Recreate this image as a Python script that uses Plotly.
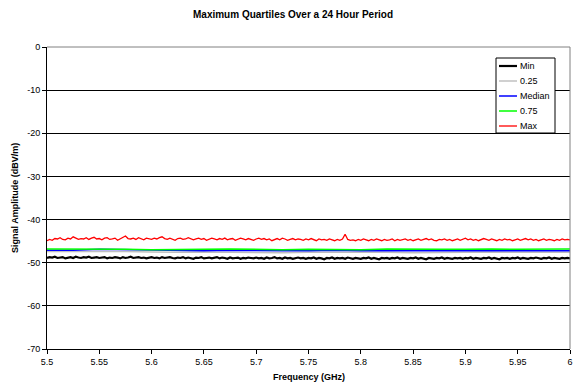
import plotly.graph_objects as go

# ---- data ----
f_start, f_step = 5.5, 0.0025
max_vals = [
    -44.9,-44.6,-44.8,-44.4,-44.5,-44.2,-44.6,-44.7,-44.3,-44.5,-44.0,-44.3,-44.6,-44.4,-44.5,-44.2,-44.6,-44.3,-44.1,-44.5,
    -44.4,-44.7,-44.3,-44.2,-44.6,-44.5,-44.3,-44.8,-44.4,-44.2,-43.8,-44.4,-44.5,-44.3,-44.6,-44.2,-44.4,-44.7,-44.3,-44.5,
    -44.6,-44.3,-44.5,-44.2,-44.0,-44.4,-44.6,-44.3,-44.5,-44.8,-44.4,-44.3,-44.6,-44.5,-44.2,-44.4,-44.7,-44.5,-44.3,-44.6,
    -44.4,-44.8,-44.6,-44.3,-44.5,-44.7,-44.4,-44.6,-44.3,-44.7,-44.5,-44.4,-44.8,-44.6,-44.3,-44.5,-44.7,-44.4,-44.6,-44.8,
    -44.5,-44.3,-44.6,-44.4,-44.7,-44.5,-44.9,-44.6,-44.4,-44.7,-44.3,-44.5,-44.8,-44.6,-44.4,-44.7,-44.5,-44.6,-44.8,-44.5,
    -44.7,-44.4,-44.6,-44.9,-44.5,-44.7,-44.6,-44.8,-44.5,-44.7,-44.9,-44.6,-44.8,-44.5,-43.4,-44.6,-44.8,-44.7,-44.9,-44.6,
    -44.8,-44.5,-44.7,-44.9,-44.6,-44.8,-44.5,-44.7,-44.9,-44.6,-44.8,-44.7,-44.5,-44.9,-44.6,-44.8,-44.7,-44.5,-44.8,-44.6,
    -44.9,-44.7,-44.5,-44.8,-44.6,-44.4,-44.7,-44.5,-44.8,-44.9,-44.6,-44.7,-44.5,-44.8,-44.6,-44.9,-44.7,-44.5,-44.8,-44.6,
    -44.3,-44.7,-44.5,-44.8,-44.6,-44.9,-44.7,-44.4,-44.6,-44.8,-44.5,-44.7,-44.9,-44.6,-44.8,-44.5,-44.7,-44.6,-44.9,-44.7,
    -44.5,-44.8,-44.6,-44.4,-44.7,-44.5,-44.8,-44.6,-44.9,-44.7,-44.5,-44.8,-44.6,-44.7,-44.9,-44.6,-44.8,-44.5,-44.7,-44.6,
    -44.7,
]
min_vals = [
    -48.9,-48.7,-48.8,-48.6,-48.9,-48.8,-48.7,-49.0,-48.8,-48.7,-48.9,-48.6,-48.8,-48.9,-48.7,-48.8,-48.6,-48.9,-48.8,-48.7,
    -48.9,-48.8,-48.7,-49.0,-48.8,-48.9,-48.7,-48.8,-49.0,-48.7,-48.9,-48.8,-48.6,-48.9,-48.8,-48.7,-48.9,-48.8,-49.0,-48.8,
    -48.7,-48.9,-48.8,-49.0,-48.7,-48.9,-48.8,-48.7,-48.9,-49.0,-48.8,-48.9,-48.7,-49.0,-48.8,-48.9,-49.1,-48.8,-48.9,-48.7,
    -49.0,-48.9,-48.8,-49.0,-48.9,-48.7,-49.0,-48.8,-48.9,-49.1,-48.8,-49.0,-48.9,-48.8,-49.1,-48.9,-49.0,-48.8,-48.9,-49.0,
    -48.8,-49.0,-48.9,-49.1,-48.8,-49.0,-48.9,-48.7,-49.0,-48.9,-49.1,-48.8,-49.0,-48.9,-49.1,-48.9,-48.8,-49.0,-48.9,-49.1,
    -48.9,-49.0,-48.8,-49.1,-48.9,-49.0,-49.2,-48.9,-49.0,-48.8,-49.1,-48.9,-49.0,-48.9,-49.1,-48.8,-49.0,-49.1,-48.9,-49.0,
    -49.1,-48.9,-49.0,-48.8,-49.1,-48.9,-49.0,-49.2,-48.9,-49.0,-48.9,-49.1,-48.9,-49.0,-48.8,-49.1,-48.9,-49.0,-49.1,-48.9,
    -49.0,-48.8,-49.1,-48.9,-49.0,-49.2,-48.9,-49.0,-49.1,-48.9,-49.0,-48.8,-49.1,-48.9,-49.0,-49.1,-48.9,-49.0,-48.9,-49.1,
    -48.9,-49.0,-48.8,-49.1,-48.9,-49.0,-49.1,-48.9,-49.0,-48.8,-49.1,-48.9,-49.0,-49.2,-48.9,-49.0,-48.9,-49.1,-48.9,-49.0,
    -48.8,-49.1,-48.9,-49.0,-49.1,-48.9,-49.0,-48.8,-49.0,-49.1,-48.9,-49.0,-48.8,-49.1,-48.9,-49.0,-49.1,-48.9,-49.0,-48.9,
    -49.0,
]
s_start, s_step = 5.5, 0.025
q75_vals = [-46.8,-46.8,-46.9,-46.9,-47.0,-47.0,-46.9,-46.8,-46.9,-47.0,-46.9,
            -46.9,-47.0,-46.8,-46.9,-46.9,-46.9,-46.8,-46.9,-46.9,-46.8]
median_vals = [-47.1,-47.1,-46.9,-47.0,-47.1,-47.2,-47.2,-47.1,-47.2,-47.2,-47.2,
               -47.1,-47.2,-47.2,-47.2,-47.2,-47.2,-47.2,-47.2,-47.2,-47.2]
q25_vals = [-47.4,-47.4,-47.3,-47.4,-47.5,-47.6,-47.5,-47.6,-47.6,-47.7,-47.6,
            -47.6,-47.5,-47.6,-47.7,-47.6,-47.6,-47.5,-47.6,-47.6,-47.6]
x_tick_vals = [5.5, 5.55, 5.6, 5.65, 5.7, 5.75, 5.8, 5.85, 5.9, 5.95, 6.0]
x_tick_text = ["5.5", "5.55", "5.6", "5.65", "5.7", "5.75", "5.8", "5.85", "5.9", "5.95", "6"]
y_tick_vals = [0, -10, -20, -30, -40, -50, -60, -70]
y_tick_text = ["0", "-10", "-20", "-30", "-40", "-50", "-60", "-70"]
series_names = ["Min", "0.25", "Median", "0.75", "Max"]
series_colors = ["black", "#c0c0c0", "#0000ff", "#00ff00", "#ff0000"]
series_widths = [2.2, 1.5, 1.5, 1.5, 1.3]

fine_x = [round(f_start + i * f_step, 5) for i in range(len(max_vals))]
coarse_x = [round(s_start + i * s_step, 5) for i in range(len(q75_vals))]
series_x = [fine_x, coarse_x, coarse_x, coarse_x, fine_x]
series_y = [min_vals, q25_vals, median_vals, q75_vals, max_vals]

# page body margin removed via post_script, figure fills the window
W, H = 575, 386
L, R, T, B = 47, 570, 47, 349
def px(x): return (x - L) / (R - L)
def py(y): return (B - y) / (B - T)

fig = go.Figure()
for nm, xs, ys, c, w in zip(series_names, series_x, series_y, series_colors, series_widths):
    fig.add_trace(go.Scatter(x=xs, y=ys, name=nm, mode="lines",
                             line=dict(color=c, width=w), showlegend=False))

font = "Liberation Sans, Arial, sans-serif"
fig.update_layout(
    width=W, height=H,
    margin=dict(l=L, r=W - R, t=T, b=H - B, autoexpand=False),
    paper_bgcolor="white", plot_bgcolor="white",
    font=dict(family=font, size=9, color="black"),
    showlegend=False,
    xaxis=dict(range=[5.5, 6.0], tickvals=x_tick_vals, ticktext=x_tick_text,
               ticks="outside", ticklen=4, tickcolor="black",
               showline=True, linecolor="black", linewidth=1,
               showgrid=False, zeroline=False, automargin=False,
               ticklabeloverflow="allow",
               tickfont=dict(size=9, family=font)),
    yaxis=dict(range=[-70, 0], tickvals=y_tick_vals, ticktext=y_tick_text,
               ticks="outside", ticklen=4, tickcolor="black",
               showline=True, linecolor="black", linewidth=1,
               showgrid=True, gridcolor="black", gridwidth=1, zeroline=False,
               automargin=False, tickfont=dict(size=9, family=font)),
)
# plot area border top/right (gray)
fig.add_shape(type="line", xref="paper", yref="paper", x0=0, x1=1, y0=1, y1=1,
              line=dict(color="#808080", width=1))
fig.add_shape(type="line", xref="paper", yref="paper", x0=1, x1=1, y0=0, y1=1,
              line=dict(color="#808080", width=1))

# titles
fig.add_annotation(text="<b>Maximum Quartiles Over a 24 Hour Period</b>",
                   xref="paper", yref="paper", x=px(293), y=py(15),
                   xanchor="center", yanchor="middle", showarrow=False,
                   font=dict(size=10, family=font))
fig.add_annotation(text="<b>Frequency (GHz)</b>", xref="paper", yref="paper",
                   x=px(309), y=py(377), xanchor="center", yanchor="middle",
                   showarrow=False, font=dict(size=9, family=font))
fig.add_annotation(text="<b>Signal Amplitude (dBV/m)</b>", xref="paper", yref="paper",
                   x=px(15), y=py(198), xanchor="center", yanchor="middle",
                   textangle=-90, showarrow=False, font=dict(size=9, family=font))

# legend box
lx0, lx1, ly0, ly1 = 496, 555, 58, 133
fig.add_shape(type="rect", xref="paper", yref="paper",
              x0=px(lx0), x1=px(lx1), y0=py(ly1), y1=py(ly0),
              line=dict(color="black", width=1), fillcolor="white", layer="above")
for i, (nm, c, w) in enumerate(zip(series_names, series_colors, series_widths)):
    yy = 66 + 15 * i
    fig.add_shape(type="line", xref="paper", yref="paper",
                  x0=px(499), x1=px(517), y0=py(yy), y1=py(yy),
                  line=dict(color=c, width=w), layer="above")
    fig.add_annotation(text=nm, xref="paper", yref="paper", x=px(518), y=py(yy),
                       xanchor="left", yanchor="middle", showarrow=False,
                       font=dict(size=9, family=font))

fig.write_html("out.html",
               config={"displayModeBar": False, "staticPlot": True},
               post_script="document.body.style.margin='0';"
                           "document.body.style.overflow='hidden';")
